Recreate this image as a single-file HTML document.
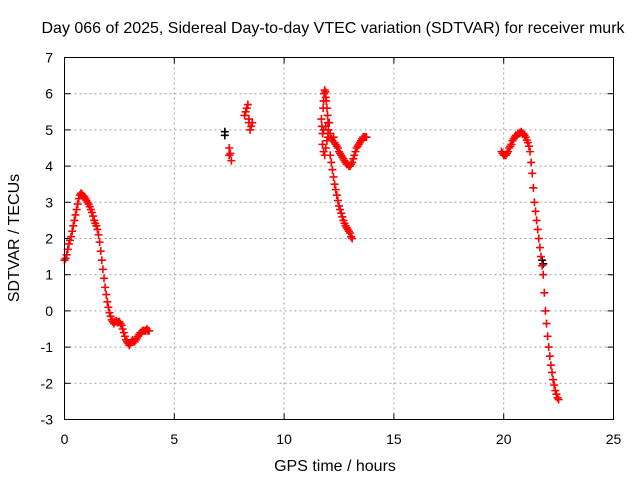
<!DOCTYPE html>
<html><head><meta charset="utf-8"><style>
body{margin:0;background:#fff;}
svg{display:block;font-family:"Liberation Sans",sans-serif;}
</style></head><body>
<svg id="chart" width="640" height="480" viewBox="0 0 640 480" xmlns="http://www.w3.org/2000/svg">
<rect width="640" height="480" fill="#fff"/>
<text x="333" y="33" font-size="16" text-anchor="middle">Day 066 of 2025, Sidereal Day-to-day VTEC variation (SDTVAR) for receiver murk</text>
<text x="335" y="471" font-size="16" text-anchor="middle">GPS time / hours</text>
<text transform="translate(19,238) rotate(-90)" font-size="16" text-anchor="middle">SDTVAR / TECUs</text>
<g id="grid"></g><g id="ticks"></g><g id="marks"></g>
<rect x="64.5" y="57.5" width="549" height="362" fill="none" stroke="#000" stroke-width="1"/>
</svg>
<script>
const xTicks=[0,5,10,15,20,25];
const yTicks=[-3,-2,-1,0,1,2,3,4,5,6,7];
const seg1X=[0,0.05,0.1,0.15,0.2,0.25,0.3,0.35,0.4,0.45,0.5,0.55,0.6,0.65,0.7,0.75,0.8,0.85,0.9,0.95,1.0,1.05,1.1,1.15,1.2,1.25,1.3,1.35,1.4,1.45,1.5,1.55,1.6,1.65,1.7,1.75,1.8,1.85,1.9,1.95,2.0,2.05,2.1,2.15,2.2,2.25,2.3,2.35,2.4,2.45,2.5,2.55,2.6,2.65,2.7,2.75,2.8,2.85,2.9,2.95,3.0,3.05,3.1,3.15,3.2,3.25,3.3,3.35,3.4,3.45,3.5,3.55,3.6,3.65,3.7,3.75,3.8,3.85];
const seg1Y=[1.4,1.45,1.55,1.7,1.85,1.95,2.05,2.2,2.35,2.5,2.65,2.8,2.95,3.1,3.2,3.25,3.22,3.18,3.15,3.1,3.05,3.0,2.95,2.88,2.8,2.72,2.62,2.5,2.42,2.35,2.25,2.1,1.9,1.65,1.4,1.15,0.9,0.65,0.45,0.25,0.1,-0.05,-0.15,-0.25,-0.3,-0.35,-0.3,-0.28,-0.32,-0.3,-0.3,-0.35,-0.4,-0.5,-0.6,-0.7,-0.8,-0.85,-0.9,-0.95,-0.9,-0.85,-0.8,-0.85,-0.85,-0.8,-0.75,-0.7,-0.65,-0.6,-0.6,-0.55,-0.55,-0.55,-0.55,-0.5,-0.55,-0.55];
const seg2X=[7.5,7.55,7.6,7.5,8.2,8.25,8.3,8.35,8.4,8.45,8.5,8.55,8.4];
const seg2Y=[4.5,4.35,4.15,4.3,5.4,5.5,5.6,5.7,5.2,5.0,5.1,5.2,5.3];
const seg3aX=[11.7,11.72,11.75,11.78,11.8,11.82,11.85,11.88,11.9,11.92,11.95,11.98,12.0,12.02,12.05];
const seg3aY=[5.3,5.1,4.9,5.6,5.8,6.0,6.1,6.05,5.9,5.8,5.6,5.4,5.2,5.0,5.2];
const seg3bX=[11.75,11.8,11.85,11.9,11.95,12.0,11.8,11.9,12.0];
const seg3bY=[4.6,4.4,4.3,4.5,4.7,4.8,5.0,5.1,4.9];
const seg3cX=[12.1,12.15,12.2,12.25,12.3,12.35,12.4,12.45,12.5,12.55,12.6,12.65,12.7,12.75,12.8,12.85,12.9,12.95,13.0,13.05,13.1,13.15,13.2,13.25,13.3,13.35,13.4,13.45,13.5,13.55,13.6,13.65,13.7,13.75];
const seg3cY=[4.9,4.75,4.7,4.8,4.65,4.6,4.55,4.5,4.4,4.35,4.3,4.25,4.2,4.15,4.1,4.05,4.05,4.0,4.0,4.05,4.1,4.2,4.3,4.4,4.5,4.55,4.6,4.65,4.7,4.75,4.8,4.8,4.8,4.8];
const seg3dX=[12.1,12.15,12.2,12.25,12.3,12.35,12.4,12.45,12.5,12.55,12.6,12.65,12.7,12.75,12.8,12.85,12.9,12.95,13.0,13.05,13.1];
const seg3dY=[4.3,4.1,3.9,3.7,3.5,3.35,3.2,3.05,2.9,2.8,2.7,2.6,2.5,2.42,2.35,2.3,2.25,2.2,2.15,2.05,2.0];
const seg4X=[19.9,19.95,20.0,20.05,20.1,20.15,20.2,20.25,20.3,20.35,20.4,20.45,20.5,20.55,20.6,20.65,20.7,20.75,20.8,20.85,20.9,20.95,21.0,21.05,21.1,21.15,21.2,21.25,21.3,21.35,21.4,21.45,21.5,21.55,21.6,21.65,21.7,21.75,21.8,21.85,21.9,21.95,22.0,22.05,22.1,22.15,22.2,22.25,22.3,22.35,22.4,22.45,22.5];
const seg4Y=[4.4,4.35,4.3,4.3,4.3,4.35,4.4,4.5,4.55,4.6,4.7,4.75,4.8,4.85,4.85,4.9,4.9,4.92,4.95,4.9,4.9,4.85,4.8,4.72,4.65,4.55,4.4,4.1,3.8,3.4,3.0,2.75,2.5,2.25,2.0,1.75,1.5,1.25,1.0,0.5,0.0,-0.35,-0.7,-1.0,-1.25,-1.5,-1.7,-1.9,-2.05,-2.2,-2.3,-2.4,-2.45];
const blackX=[7.3,7.3,21.8,21.75];
const blackY=[4.95,4.85,1.3,1.4];
const ns="http://www.w3.org/2000/svg";
const X0=64.5,X1=613.5,Y0=419.5,Y1=57.5;
const xs=v=>X0+(v-0)/25*(X1-X0);
const ys=v=>Y0-(v+3)/10*(Y0-Y1);
const grid=document.getElementById('grid'),ticks=document.getElementById('ticks'),marks=document.getElementById('marks');
function mk(t,a,p){const e=document.createElementNS(ns,t);for(const k in a)e.setAttribute(k,a[k]);p.appendChild(e);return e;}
xTicks.forEach(v=>{const x=xs(v);
 if(v>0&&v<25){const g=mk('line',{x1:x,x2:x,y1:Y0,y2:Y1,stroke:'#a0a0a0','stroke-dasharray':'2,3'},grid);
 
 }
 mk('line',{x1:x,x2:x,y1:Y0,y2:Y0-6,stroke:'#000'},ticks);mk('line',{x1:x,x2:x,y1:Y1,y2:Y1+6,stroke:'#000'},ticks);
 const t=mk('text',{x:x,y:444,'font-size':14,'text-anchor':'middle'},ticks);t.textContent=v;
 
 });
yTicks.forEach(v=>{const y=ys(v);
 if(v>-3&&v<7){const g=mk('line',{x1:X0,x2:X1,y1:y,y2:y,stroke:'#a0a0a0','stroke-dasharray':'2,3'},grid);
 
 }
 mk('line',{x1:X0,x2:X0+6,y1:y,y2:y,stroke:'#000'},ticks);mk('line',{x1:X1,x2:X1-6,y1:y,y2:y,stroke:'#000'},ticks);
 const t=mk('text',{x:53,y:y+5,'font-size':14,'text-anchor':'end'},ticks);t.textContent=v;
 
 });
function plus(x,y,c,name){const p=mk('path',{d:`M${x-4},${y}h8M${x},${y-4}v8`,stroke:c,'stroke-width':1.6,fill:'none'},marks);
 
 }
blackX.forEach((v,i)=>plus(xs(v),ys(blackY[i]),'#000','black-point'));
[[seg1X,seg1Y],[seg2X,seg2Y],[seg3aX,seg3aY],[seg3bX,seg3bY],[seg3cX,seg3cY],[seg3dX,seg3dY],[seg4X,seg4Y]].forEach(s=>{
 s[0].forEach((v,i)=>plus(xs(v),ys(s[1][i]),'#f00','sdtvar-point'));});
</script>
</body></html>
